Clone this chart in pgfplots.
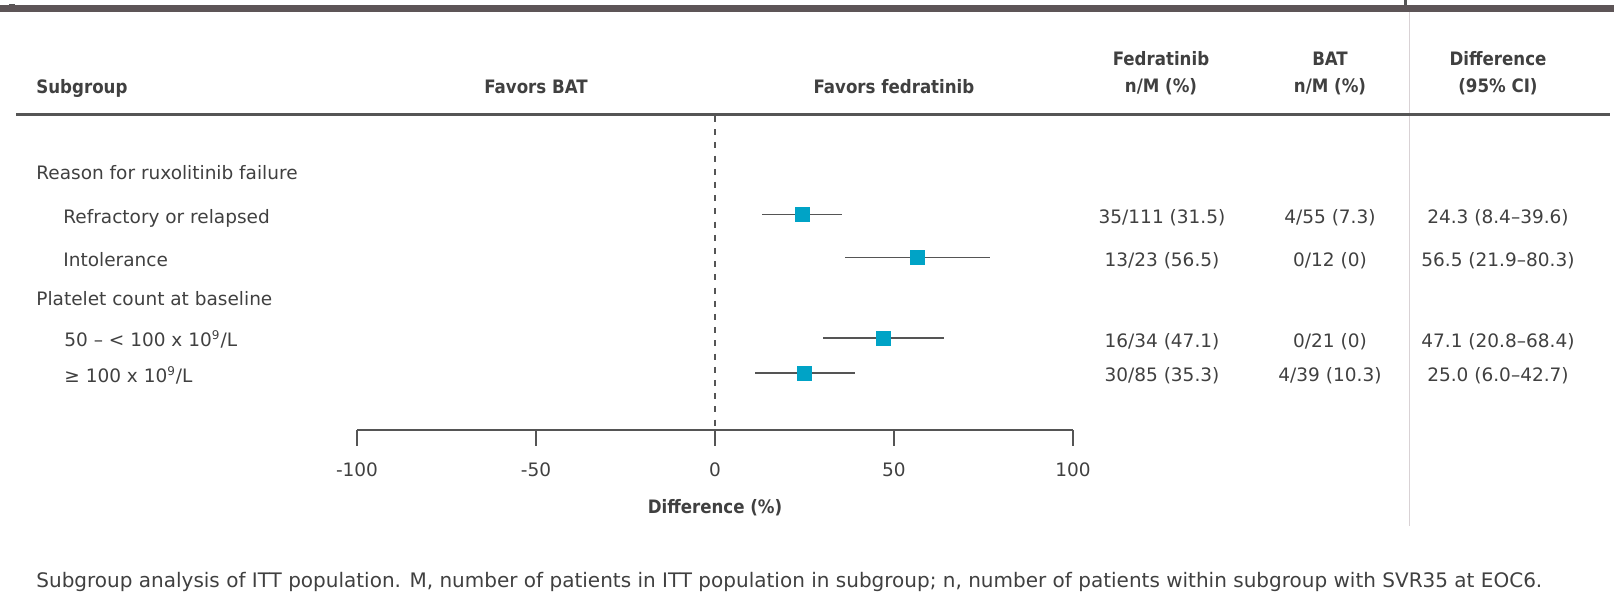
\documentclass[border=0pt]{standalone}
\usepackage{pgfplots}
\pgfplotsset{compat=1.18}
\usepackage{fontspec}
\setmainfont{DejaVu Sans}
\newfontfamily\hb{DejaVu Sans Condensed Bold}
\definecolor{txt}{HTML}{404040}
\definecolor{axc}{HTML}{555555}
\definecolor{band}{HTML}{5D5557}
\definecolor{sq}{HTML}{00A3C6}
\definecolor{vline}{HTML}{D9D2D5}
\pgfplotstableread{
y x ep em
-214.7 24.3 11.1 11.2
-257.7 56.4 20.4 20.1
-338.3 46.9 17.0 16.6
-373.3 25.1 13.9 13.9
}\forest
\begin{document}
\begin{tikzpicture}[x=0.5pt,y=-0.5pt,font=\fontsize{9.25pt}{11pt}\selectfont,text=txt]
\useasboundingbox (0,0) rectangle (1614,603);
% decorations
\fill[band] (0,5) rectangle (1614,12.3);
\fill[axc] (1403.5,0) rectangle (1407,5);
\draw[axc,line width=0.6pt] (9,4.3) -- (15,4.3);
\draw[vline,line width=0.75pt] (1409.5,12.3) -- (1409.5,526);
\draw[axc,line width=1.3pt] (16,114.7) -- (1610,114.7);
% headers
\node[anchor=base west,inner sep=0] at (36,94) {\hb Subgroup};
\node[anchor=base,inner sep=0] at (536,94) {\hb Favors BAT};
\node[anchor=base,inner sep=0] at (894,94) {\hb Favors fedratinib};
\node[anchor=base,inner sep=0] at (1161,66) {\hb Fedratinib};
\node[anchor=base,inner sep=0] at (1161,93) {\hb n/M (\%)};
\node[anchor=base,inner sep=0] at (1330,66) {\hb BAT};
\node[anchor=base,inner sep=0] at (1330,93) {\hb n/M (\%)};
\node[anchor=base,inner sep=0] at (1498,66) {\hb Difference};
\node[anchor=base,inner sep=0] at (1498,93) {\hb (95\% CI)};
% row labels
\node[anchor=base west,inner sep=0] at (36,180) {Reason for ruxolitinib failure};
\node[anchor=base west,inner sep=0] at (63,224) {Refractory or relapsed};
\node[anchor=base west,inner sep=0] at (63,267) {Intolerance};
\node[anchor=base west,inner sep=0] at (36,306) {Platelet count at baseline};
\node[anchor=base west,inner sep=0] at (64,347) {50 – < 100 x 10\textsuperscript{\fontsize{6pt}{7pt}\selectfont 9}/L};
\node[anchor=base west,inner sep=0] at (64,383) {≥ 100 x 10\textsuperscript{\fontsize{6pt}{7pt}\selectfont 9}/L};
% table values
\node[anchor=base,inner sep=0] at (1162,224) {35/111 (31.5)};
\node[anchor=base,inner sep=0] at (1162,267) {13/23 (56.5)};
\node[anchor=base,inner sep=0] at (1162,348) {16/34 (47.1)};
\node[anchor=base,inner sep=0] at (1162,382) {30/85 (35.3)};
\node[anchor=base,inner sep=0] at (1330,224) {4/55 (7.3)};
\node[anchor=base,inner sep=0] at (1330,267) {0/12 (0)};
\node[anchor=base,inner sep=0] at (1330,348) {0/21 (0)};
\node[anchor=base,inner sep=0] at (1330,382) {4/39 (10.3)};
\node[anchor=base,inner sep=0] at (1498,224) {24.3 (8.4–39.6)};
\node[anchor=base,inner sep=0] at (1498,267) {56.5 (21.9–80.3)};
\node[anchor=base,inner sep=0] at (1498,348) {47.1 (20.8–68.4)};
\node[anchor=base,inner sep=0] at (1498,382) {25.0 (6.0–42.7)};
% x label and caption
\node[anchor=base,inner sep=0] at (715,514) {\hb Difference (\%)};
\node[anchor=base west,inner sep=0,font=\fontsize{10pt}{12pt}\selectfont] at (36,588) {Subgroup analysis of ITT population. M, number of patients in ITT population in subgroup; n, number of patients within subgroup with SVR35 at EOC6.};
\coordinate (A) at (357,430);
\begin{axis}[
  at={(A)}, anchor=south west,
  scale only axis, width=358pt, height=158.5pt,
  xmin=-100, xmax=100, ymin=-430, ymax=-113,
  axis x line*=bottom, hide y axis,
  axis line style={axc,line width=1pt},
  xtick={-100,-50,0,50,100},
  xtick align=outside, major tick length=8pt,
  tick style={axc,line width=1pt},
  /pgf/number format/assume math mode=true,
  xticklabel style={font=\fontsize{9.25pt}{11pt}\selectfont,text=txt,yshift=-5pt},
  clip=false,
]
\addplot[axc,line width=1pt,dash pattern=on 3pt off 3.6pt] coordinates {(0,-116) (0,-430)};
\addplot[only marks, mark=none, color=axc,
  error bars/.cd, x dir=both, x explicit, error mark=none,
  error bar style={line width=0.8pt,solid,axc}]
  table[x=x,y=y,x error plus=ep,x error minus=em]{\forest};
\addplot[only marks, mark=square*, mark size=3.5pt, color=sq, fill=sq] table[x=x,y=y]{\forest};
\end{axis}
\end{tikzpicture}
\end{document}
